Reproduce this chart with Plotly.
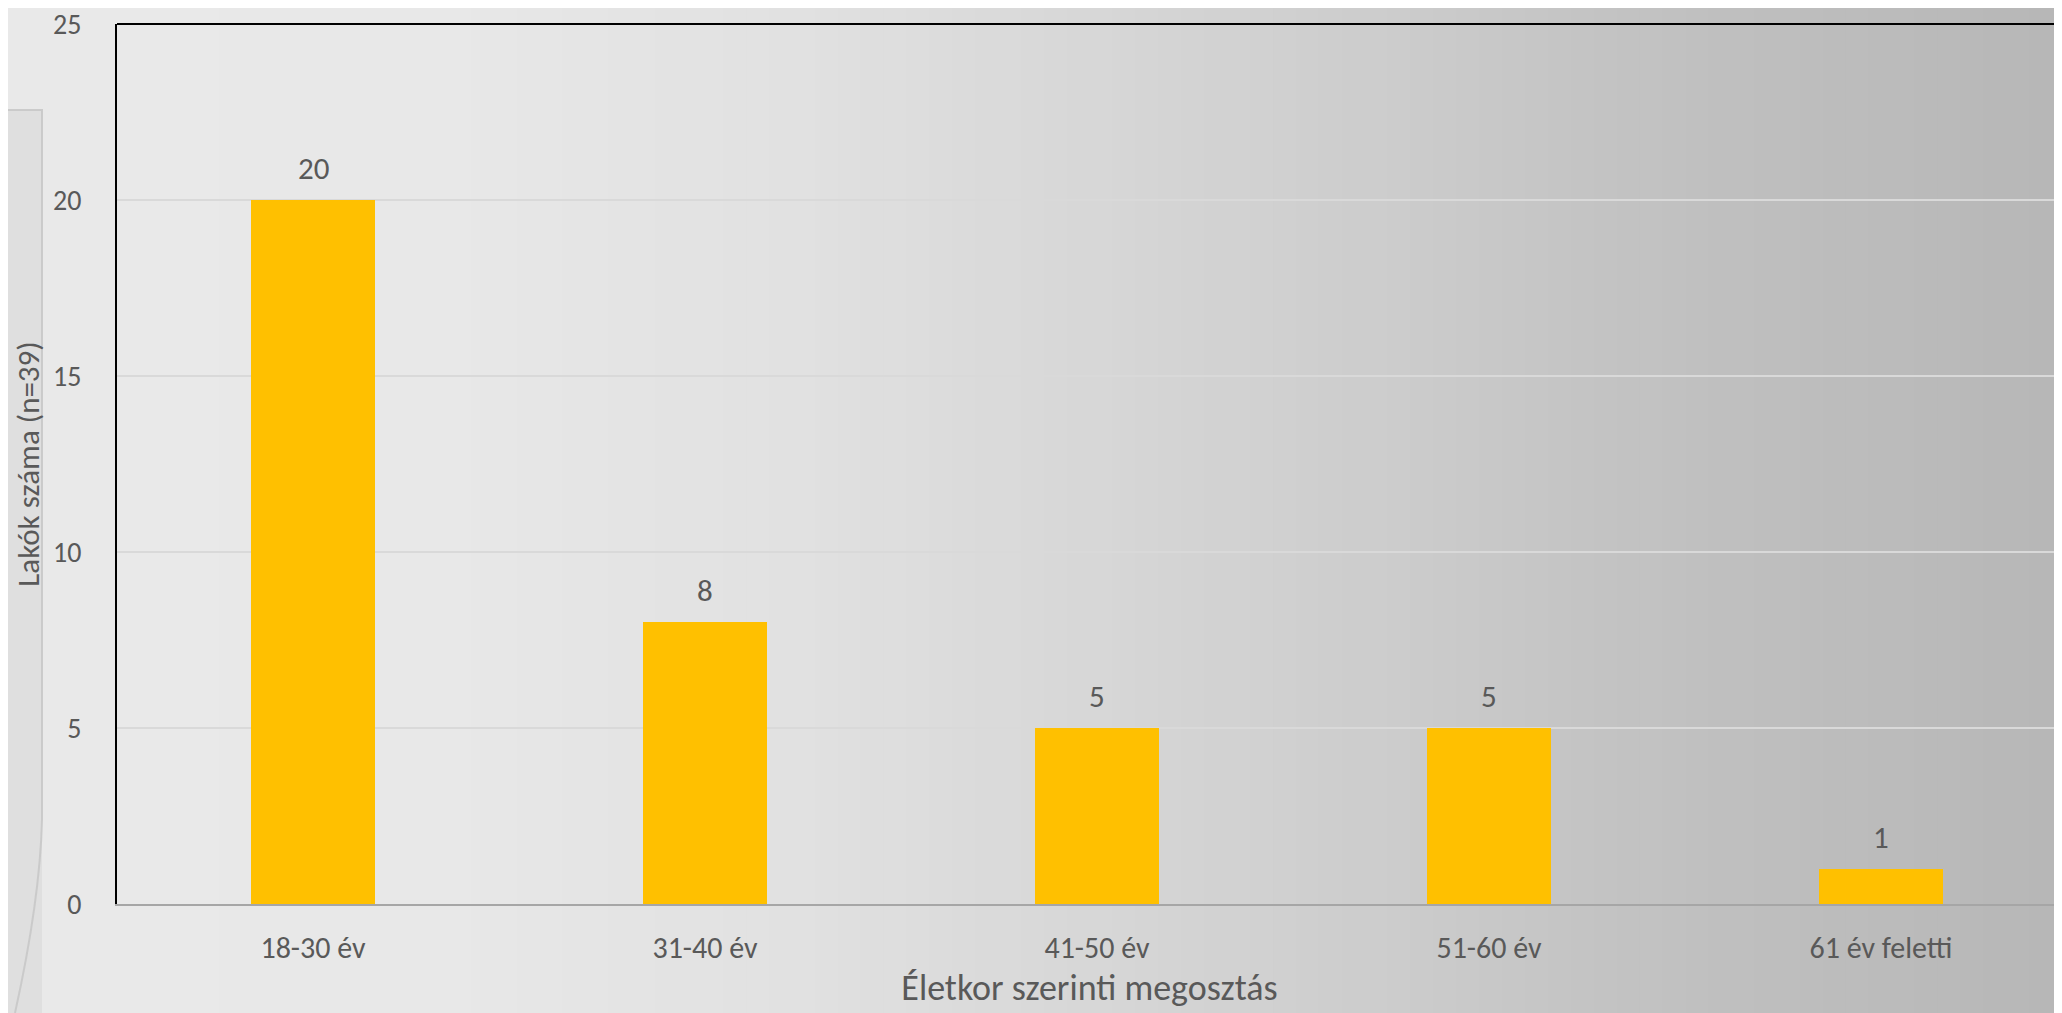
import plotly.graph_objects as go

# ---- data ----
categories = ["18-30 év", "31-40 év", "41-50 év", "51-60 év", "61 év feletti"]
values = [20, 8, 5, 5, 1]
y_ticks = [0, 5, 10, 15, 20, 25]
x_title = "Életkor szerinti megosztás"
y_title = "Lakók száma (n=39)"

# ---- layout geometry (pixels); page body adds an 8px offset ----
OFF = 8
W, H = 2062 - OFF, 1013 - OFF
L, T = 117 - OFF, 24 - OFF
B = H - (904 - OFF)
R = 0
PW = W - L - R
PH = H - T - B

FONT = "Carlito, Lato, 'Open Sans', sans-serif"
TXT = "#595959"
BAR = "#FFC000"


def px_x(px):
    # px given in page pixels
    return (px - OFF - L) / PW


def px_y(py):
    return (H - B - (py - OFF)) / PH


# background gradient stops (page pixel x, gray level)
grad_stops = [(0, 233), (450, 232), (800, 225), (1100, 215), (1400, 204), (1700, 192), (2062, 183)]


def gray_at(px):
    for (x0, g0), (x1, g1) in zip(grad_stops[:-1], grad_stops[1:]):
        if x0 <= px <= x1:
            t = (px - x0) / (x1 - x0)
            return round(g0 + t * (g1 - g0))
    return grad_stops[-1][1]


shapes = []
n_strips = 90
for i in range(n_strips):
    a = 2062 * i / n_strips
    b = 2062 * (i + 1) / n_strips
    g = gray_at((a + b) / 2)
    shapes.append(dict(
        type="rect", xref="paper", yref="paper",
        x0=px_x(a - 10), x1=px_x(b + 1), y0=px_y(1030), y1=px_y(-10),
        fillcolor=f"rgb({g},{g},{g})", line=dict(width=0), layer="below",
    ))

# faint decorative panel on the left edge
shapes.append(dict(
    type="rect", xref="paper", yref="paper",
    x0=px_x(-10), x1=px_x(42), y0=px_y(1013), y1=px_y(110),
    fillcolor="rgba(205,205,205,0.35)", line=dict(width=0), layer="below",
))
shapes.append(dict(
    type="path", xref="paper", yref="paper",
    path=(f"M {px_x(-5)},{px_y(110)} L {px_x(42)},{px_y(110)} "
          f"L {px_x(42)},{px_y(820)} Q {px_x(40)},{px_y(900)} {px_x(15)},{px_y(1013)}"),
    line=dict(color="rgba(200,200,200,0.9)", width=2), layer="below",
))
# top border of plot area
shapes.append(dict(
    type="line", xref="paper", yref="paper", x0=0, x1=1.01, y0=1, y1=1,
    line=dict(color="#000000", width=2),
))

fig = go.Figure()
fig.add_trace(go.Bar(
    x=categories, y=values, width=0.314,
    marker=dict(color=BAR, line=dict(width=0)),
    hoverinfo="x+y",
))

annotations = []
for c, v in zip(categories, values):
    annotations.append(dict(
        x=c, y=v, xref="x", yref="y", text=str(v), showarrow=False,
        yanchor="bottom", yshift=11,
        font=dict(family=FONT, size=31, color=TXT),
    ))

fig.update_layout(
    width=W, height=H,
    margin=dict(l=L, r=R, t=T, b=B, autoexpand=False),
    paper_bgcolor="#e0e0e0",
    plot_bgcolor="rgba(0,0,0,0)",
    shapes=shapes,
    annotations=annotations,
    showlegend=False,
    bargap=0.0,
    font=dict(family=FONT, size=28, color=TXT),
    xaxis=dict(
        range=[-0.5, 4.5 - 15 / 392],
        showline=True, linecolor="#a6a6a6", linewidth=2,
        showgrid=False, ticks="", zeroline=False,
        tickfont=dict(family=FONT, size=30, color=TXT),
        ticklabelstandoff=16,
        title=dict(text=x_title, font=dict(family=FONT, size=36, color=TXT), standoff=10),
        automargin=False,
    ),
    yaxis=dict(
        range=[0, 25], tickvals=y_ticks,
        showline=True, linecolor="#000000", linewidth=2,
        showgrid=True, gridcolor="#d9d9d9", gridwidth=2,
        ticks="", zeroline=False,
        tickfont=dict(family=FONT, size=28, color=TXT),
        ticklabelstandoff=28,
        ticklabeloverflow="allow",
        title=dict(text=y_title, font=dict(family=FONT, size=31, color=TXT), standoff=4),
        automargin=False,
    ),
)

fig.write_html("out.html")
